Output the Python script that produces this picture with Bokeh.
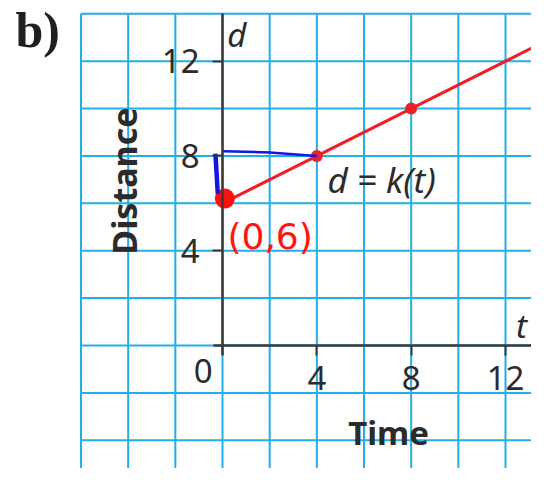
from bokeh.plotting import figure
from bokeh.models import Range1d, LinearAxis, FixedTicker
from bokeh.core.properties import value
from bokeh.embed import file_html
from bokeh.resources import INLINE

# ---- data ----
grid_t = [-6, -4, -2, 0, 2, 4, 6, 8, 10, 12, 14]
grid_d = [-4, -2, 0, 2, 4, 6, 8, 10, 12, 14]
x_ticks = [4, 8, 12]
y_ticks = [4, 8, 12]
line_t = [0, 14]
line_d = [6, 13]
point_t = [4, 8]
point_d = [8, 10]
start_t = [0.1]
start_d = [6.2]
blue_v_t = [-0.3, -0.2]
blue_v_d = [8.1, 6.4]
blue_h_t = [0.0, 2.0, 4.0]
blue_h_d = [8.2, 8.15, 8.0]

GRID = "#22aee8"
RED = "#ec2128"
INK = "#2b2b2b"
FONT = "Noto Sans"

p = figure(width=531, height=468, output_backend="svg", toolbar_location=None,
           x_range=Range1d(-9.414, 13.102), y_range=Range1d(-5.192, 14.563),
           min_border=0, x_axis_type=None, y_axis_type=None)
p.outline_line_color = None
p.xgrid.visible = False
p.ygrid.visible = False
p.background_fill_color = "white"

# grid
p.segment(x0=grid_t, y0=[-6] * len(grid_t), x1=grid_t, y1=[14] * len(grid_t),
          line_color=GRID, line_width=2)
p.segment(x0=[-6] * len(grid_d), y0=grid_d, x1=[15] * len(grid_d), y1=grid_d,
          line_color=GRID, line_width=2)

# axes through the origin
xa = LinearAxis(fixed_location=0, ticker=FixedTicker(ticks=x_ticks), bounds=(-0.4, 15))
ya = LinearAxis(fixed_location=0, ticker=FixedTicker(ticks=y_ticks), bounds=(-0.42, 14))
for ax in (xa, ya):
    ax.axis_line_color = "#3a3a3a"
    ax.axis_line_width = 2.5
    ax.major_tick_line_color = "#3a3a3a"
    ax.major_tick_line_width = 2
    ax.major_tick_out = 10
    ax.major_tick_in = 0
    ax.minor_tick_line_color = None
    ax.major_label_text_font = FONT
    ax.major_label_text_font_size = "33px"
    ax.major_label_text_color = INK
xa.major_label_standoff = 10
ya.major_label_standoff = 13
p.add_layout(xa, "below")
p.add_layout(ya, "left")

# red line and points
p.line(line_t, line_d, line_color=RED, line_width=3)
p.scatter(point_t, point_d, size=12, fill_color=RED, line_color=None)

# handwriting
p.scatter(start_t, start_d, size=20, fill_color="#ff1010", line_color=None)
p.line(blue_v_t, blue_v_d, line_color="#1414e6", line_width=4.5)
p.line(blue_h_t, blue_h_d, line_color="#1414e6", line_width=2.5)
p.text(x=[0.21], y=[4.6], text=["(0,6)"], text_font=value("DejaVu Sans"),
       text_font_size="36px", text_color="#ff1414", text_baseline="middle")

# texts
p.text(x=[-0.42], y=[-1.08], text=["0"], text_font=value(FONT), text_font_size="33px",
       text_color=INK, text_align="right", text_baseline="middle")
p.text(x=[-4.16], y=[6.94], text=["Distance"], text_font=value(FONT), text_font_size="34px",
       text_font_style="bold", text_color=INK, text_align="center",
       text_baseline="middle", angle=1.5708)
p.text(x=[7.04], y=[-3.69], text=["Time"], text_font=value(FONT), text_font_size="33px",
       text_font_style="bold", text_color=INK, text_align="center", text_baseline="middle")
p.text(x=[0.2], y=[13.13], text=["d"], text_font=value(FONT), text_font_size="33px",
       text_font_style="italic", text_color=INK, text_baseline="middle")
p.text(x=[12.45], y=[0.84], text=["t"], text_font=value(FONT), text_font_size="33px",
       text_font_style="italic", text_color=INK, text_baseline="middle")
p.text(x=[4.45], y=[6.99], text=["d = k(t)"], text_font=value(FONT), text_font_size="35px",
       text_font_style="italic", text_color=INK, text_baseline="middle")
p.text(x=[-8.78], y=[13.3], text=["b)"], text_font=value("Liberation Serif"),
       text_font_size="50px", text_font_style="bold", text_color="#231f20",
       text_baseline="middle")

open("out.html", "w").write(file_html(p, INLINE))
